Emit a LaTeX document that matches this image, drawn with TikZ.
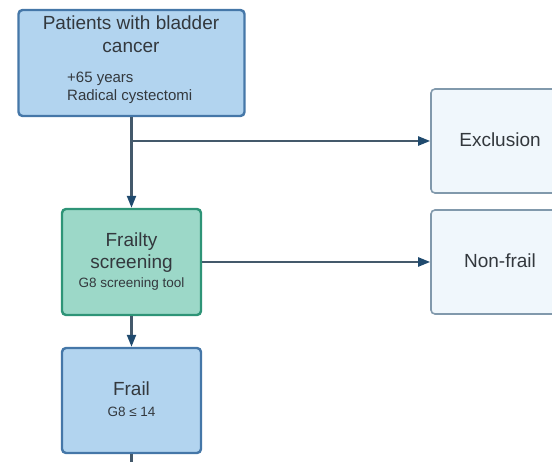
\documentclass[tikz,border=0pt]{standalone}
\usepackage{fontspec}
\setmainfont{Liberation Sans}
\usetikzlibrary{arrows.meta}
\definecolor{bluefill}{HTML}{B2D4EF}
\definecolor{blueline}{HTML}{4577A8}
\definecolor{greenfill}{HTML}{9CD8C8}
\definecolor{greenline}{HTML}{2E9477}
\definecolor{palefill}{HTML}{F0F7FC}
\definecolor{paleline}{HTML}{8199AC}
\definecolor{txt}{HTML}{33383D}
\definecolor{conn}{HTML}{44596B}
\definecolor{tipc}{HTML}{1F4A6E}
\tikzset{
  box/.style={draw, rounded corners=4pt, line width=2.4pt, minimum width=#1, inner sep=0pt},
  bluebox/.style={box=226pt, fill=bluefill, draw=blueline},
  greenbox/.style={box=139pt, fill=greenfill, draw=greenline},
  palebox/.style={box=138pt, fill=palefill, draw=paleline, line width=1.6pt},
  big/.style={font=\fontsize{19}{19}\selectfont, text=txt, inner sep=0pt, anchor=base},
  small/.style={font=\fontsize{15}{15}\selectfont, text=txt, inner sep=0pt, anchor=base},
  tiny/.style={font=\fontsize{13.5}{13.5}\selectfont, text=txt, inner sep=0pt, anchor=base},
  conline/.style={draw=conn, line width=2.2pt},
  arr/.style={conline, -{Triangle[length=12pt,width=9pt,color=tipc,fill=tipc]}}
}
\begin{document}
\begin{tikzpicture}[x=1pt,y=-1pt]
\useasboundingbox (0,0) rectangle (552,462);
\clip (0,0) rectangle (552,462);
% boxes
\node[bluebox, minimum height=106pt] (pat) at (131.5,63) {};
\node[greenbox, minimum height=106pt] (fs) at (131.5,262) {};
\node[bluebox, minimum width=139pt, minimum height=105pt] (frail) at (131.5,400.5) {};
\node[palebox, minimum height=104pt] (excl) at (500,141) {};
\node[palebox, minimum height=104pt] (nonf) at (500,262) {};
% texts
\node[big] (pat1) at (131,30) {Patients with bladder};
\node[big] (pat2) at (131,53) {cancer};
\node[small, anchor=base west] (pat3) at (67,83) {+65 years};
\node[small, anchor=base west] (pat4) at (67,101) {Radical cystectomi};
\node[big] (fs1) at (131.5,247) {Frailty};
\node[big] (fs2) at (131.5,269) {screening};
\node[tiny] (fs3) at (131.5,288) {G8 screening tool};
\node[big] (fr1) at (131.5,396) {Frail};
\node[tiny] (fr2) at (131.5,417) {G8 ≤ 14};
\node[big] (ex1) at (500,147) {Exclusion};
\node[big] (nf1) at (500,268) {Non-frail};
% connectors
\coordinate (branch) at (pat.south |- excl.west);
\coordinate (down) at (131.5,470);
\draw[arr] (pat.south) -- (fs.north);
\draw[arr] (branch) -- (excl.west);
\draw[arr] (fs.east) -- (nonf.west);
\draw[arr] (fs.south) -- (frail.north);
\draw[conline] (frail.south) -- (frail.south |- down);
\end{tikzpicture}
\end{document}
